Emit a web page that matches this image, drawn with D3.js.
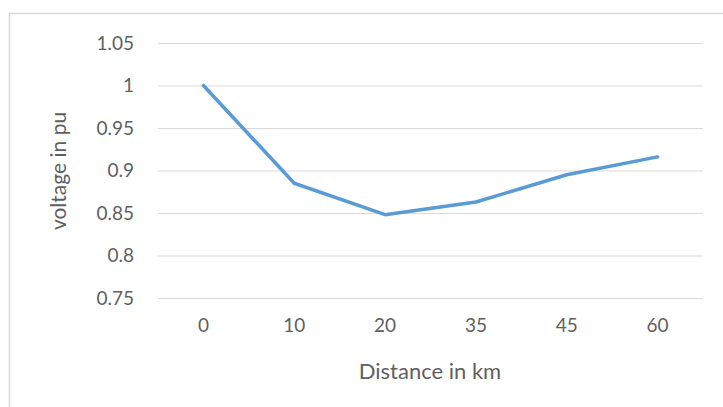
<!DOCTYPE html>
<html><head><meta charset="utf-8">
<script src="https://cdn.jsdelivr.net/npm/d3@7"></script>
<style>body{margin:0;background:#fff;}svg{display:block;}</style>
</head><body>
<svg id="c" width="723" height="407"></svg>
<script>
const categories = ["0","10","20","35","45","60"];
const voltage = [1.0, 0.885, 0.848, 0.863, 0.895, 0.916];
const yTicks = [0.75, 0.8, 0.85, 0.9, 0.95, 1.0, 1.05];
const yTickLabels = ["0.75","0.8","0.85","0.9","0.95","1","1.05"];
const xTitle = "Distance in km";
const yTitle = "voltage in pu";

const svg = d3.select("#c");
const font = "Lato, 'Open Sans', sans-serif";
const textCol = "#5f5f5f";

svg.append("rect").attr("x",9.5).attr("y",13.5).attr("width",800).attr("height",500)
  .attr("fill","#fff").attr("stroke","#d9d9d9").attr("stroke-width",1.5);

const x = d3.scaleBand().domain(categories).range([158,703]).padding(0);
const y = d3.scaleLinear().domain([0.75,1.05]).range([298,43]);

const yAxis = d3.axisLeft(y).tickValues(yTicks).tickSize(-(703-158)).tickPadding(24)
  .tickFormat((d,i)=>yTickLabels[i]);
const gy = svg.append("g").attr("transform","translate(158,0)").call(yAxis);
gy.select(".domain").remove();
gy.selectAll(".tick line").attr("stroke","#d9d9d9").attr("stroke-width",1);
gy.selectAll(".tick text").attr("fill",textCol).style("font-family",font).style("font-size","19px");

const xAxis = d3.axisBottom(x).tickSize(0).tickPadding(21);
const gx = svg.append("g").attr("transform","translate(0,298)").call(xAxis);
gx.select(".domain").remove();
gx.selectAll(".tick text").attr("fill",textCol).style("font-family",font).style("font-size","19px");

const line = d3.line().x((d,i)=>x(categories[i])+x.bandwidth()/2).y(d=>y(d));
svg.append("path").datum(voltage).attr("d",line).attr("fill","none")
  .attr("stroke","#5b9bd5").attr("stroke-width",3.5).attr("stroke-linejoin","round").attr("stroke-linecap","round");

svg.append("text").attr("x",430).attr("y",379).attr("text-anchor","middle")
  .attr("fill",textCol).style("font-family",font).style("font-size","22px").text(xTitle);
svg.append("text").attr("transform","translate(66,171) rotate(-90)").attr("text-anchor","middle")
  .attr("fill",textCol).style("font-family",font).style("font-size","21px").text(yTitle);
</script>
</body></html>
